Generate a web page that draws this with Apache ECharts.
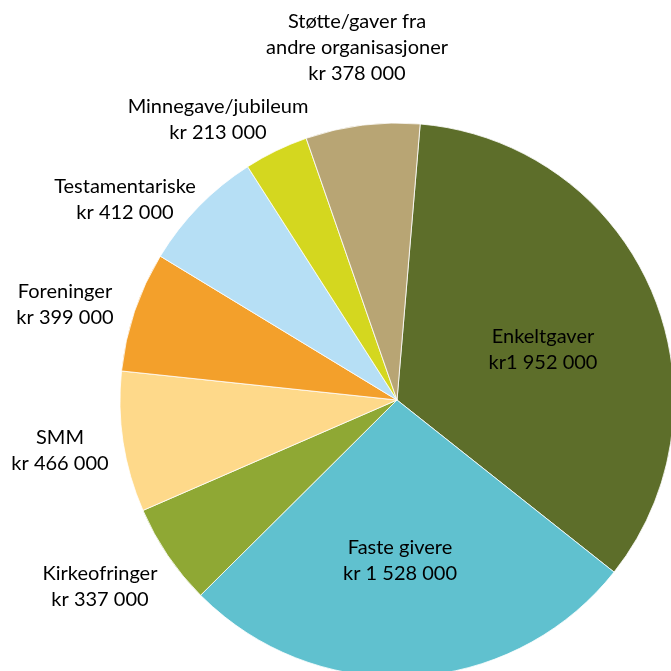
<!DOCTYPE html>
<html>
<head>
<meta charset="utf-8">
<script src="https://cdn.jsdelivr.net/npm/echarts@6/dist/echarts.min.js"></script>
<style>
  html, body { margin: 0; padding: 0; background: #fff; }
  #chart { width: 671px; height: 671px; }
</style>
</head>
<body>
<div id="chart"></div>
<script>
const names = [
  "Enkeltgaver",
  "Faste givere",
  "Kirkeofringer",
  "SMM",
  "Foreninger",
  "Testamentariske",
  "Minnegave/jubileum",
  "Støtte/gaver fra\nandre organisasjoner"
];
const values = [1952000, 1528000, 337000, 466000, 399000, 412000, 213000, 378000];
const valueLabels = ["kr1 952 000", "kr 1 528 000", "kr 337 000", "kr 466 000", "kr 399 000", "kr 412 000", "kr 213 000", "kr 378 000"];
const colors = ["#5d6e2a", "#60c1cf", "#8fa834", "#fed98a", "#f3a02b", "#b6dff5", "#d4d71f", "#b8a574"];

// label centres (first two sit inside their slices)
const labelPos = [
  [543, 350],
  [400, 561],
  [100, 587],
  [60, 451],
  [65, 305],
  [125, 200],
  [218, 120],
  [357, 48]
];

const chart = echarts.init(document.getElementById("chart"));

chart.setOption({
  animation: false,
  series: [
    {
      type: "pie",
      center: [397, 400],
      radius: [0, 277],
      startAngle: 85.2,
      clockwise: true,
      data: names.map((n, i) => ({
        name: n,
        value: values[i],
        itemStyle: { color: colors[i] },
      })),
      itemStyle: { borderColor: "#ffffff", borderWidth: 0.8 },
      label: {
        show: true,
        position: "outside",
        overflow: "none",
        formatter: p => p.name + "\n" + valueLabels[p.dataIndex],
        fontFamily: "Lato",
        fontSize: 20,
        lineHeight: 26,
        color: "#000",
        align: "center",
      },
      labelLine: { show: false },
      labelLayout: function (params) {
        const pos = labelPos[params.dataIndex];
        return { x: pos[0], y: pos[1], align: "center", verticalAlign: "middle" };
      },
    },
  ],
});
</script>
</body>
</html>
